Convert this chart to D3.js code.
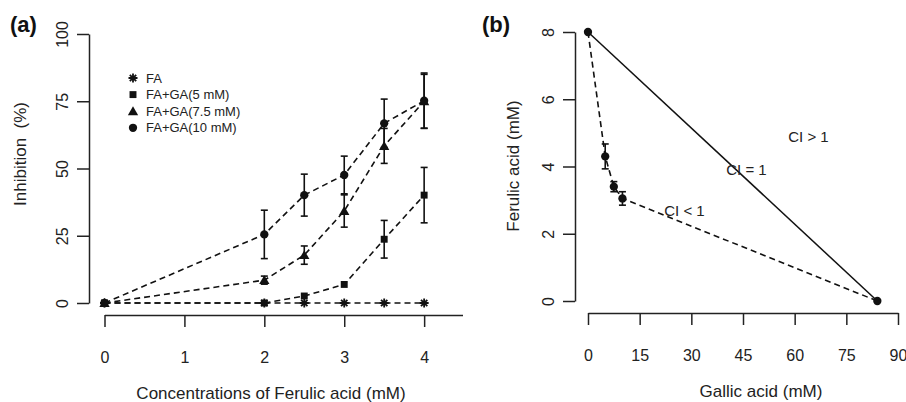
<!DOCTYPE html>
<html>
<head>
<meta charset="utf-8">
<script src="https://cdn.jsdelivr.net/npm/d3@7"></script>
<style>
  body { margin: 0; background: #fff; }
  svg { display: block; font-family: "Liberation Sans", Arial, sans-serif; }
  .dash { fill: none; stroke: #111; stroke-width: 1.6; stroke-dasharray: 6,4; }
  .err { stroke: #111; stroke-width: 1.6; }
</style>
</head>
<body>
<div id="chart"></div>
<script>
// panel (a): inhibition vs ferulic acid concentration
const concFA = [0, 2, 2.5, 3, 3.5, 4];
const seriesNames = ['FA', 'FA+GA(5 mM)', 'FA+GA(7.5 mM)', 'FA+GA(10 mM)'];
const inhFA = [0, 0, 0, 0, 0, 0];
const errFA = [0, 0, 0, 0, 0, 0];
const inhGA5 = [0, 0, 2.6, 6.9, 23.7, 40.1];
const errGA5 = [0, 0, 0, 0, 7, 10.3];
const inhGA75 = [0, 8.5, 17.8, 34.2, 58.4, 75];
const errGA75 = [0, 1.5, 3.4, 6, 6.5, 10];
const inhGA10 = [0, 25.5, 40.1, 47.6, 66.8, 75.2];
const errGA10 = [0, 9, 7.8, 7, 9, 10.3];
const xTicksA = [0, 1, 2, 3, 4];
const yTicksA = [0, 25, 50, 75, 100];

// panel (b): isobologram
const gallic = [0, 5, 7.5, 10, 84];
const ferulic = [8, 4.3, 3.4, 3.05, 0];
const ferulicErr = [0, 0.37, 0.15, 0.2, 0];
const xTicksB = [0, 15, 30, 45, 60, 75, 90];
const yTicksB = [0, 2, 4, 6, 8];
const ciLabels = ['CI > 1', 'CI = 1', 'CI < 1'];
const ciGallic = [64, 46, 28];
const ciFerulic = [4.9, 3.9, 2.7];

const width = 906;
const height = 402;

const svg = d3.select('#chart')
  .append('svg')
  .attr('width', width)
  .attr('height', height);

// draws an R style detached axis with rotated y labels
function leftAxis(g, scale, ticks, x) {
  const ax = g.append('g')
    .attr('transform', `translate(${x},0)`)
    .call(d3.axisLeft(scale).tickValues(ticks).tickSize(12).tickSizeOuter(0).tickFormat(d3.format('d')));
  ax.select('.domain').attr('stroke', '#222').attr('stroke-width', 1.5);
  ax.selectAll('.tick line').attr('stroke', '#222').attr('stroke-width', 1.5);
  ax.selectAll('.tick text')
    .attr('x', 0).attr('y', 0)
    .attr('dy', null)
    .attr('transform', 'translate(-27,0) rotate(-90)')
    .attr('text-anchor', 'middle')
    .attr('dominant-baseline', 'central')
    .style('font-size', '16px')
    .style('font-family', '"Liberation Sans", Arial, sans-serif')
    .style('fill', '#222');
}

function bottomAxis(g, scale, ticks, y) {
  const ax = g.append('g')
    .attr('transform', `translate(0,${y})`)
    .call(d3.axisBottom(scale).tickValues(ticks).tickSize(12).tickSizeOuter(0).tickFormat(d3.format('d')));
  ax.select('.domain').attr('stroke', '#222').attr('stroke-width', 1.5);
  ax.selectAll('.tick line').attr('stroke', '#222').attr('stroke-width', 1.5);
  ax.selectAll('.tick text')
    .attr('y', 42)
    .attr('dy', null)
    .attr('dominant-baseline', 'central')
    .style('font-size', '16px')
    .style('font-family', '"Liberation Sans", Arial, sans-serif')
    .style('fill', '#222');
}

function errorBars(g, xs, ys, es, xScale, yScale) {
  const idx = d3.range(xs.length).filter(i => es[i] > 0);
  idx.forEach(i => {
    const x = xScale(xs[i]);
    const y1 = yScale(ys[i] + es[i]);
    const y2 = yScale(ys[i] - es[i]);
    g.append('line').attr('class', 'err').attr('x1', x).attr('x2', x).attr('y1', y1).attr('y2', y2);
    g.append('line').attr('class', 'err').attr('x1', x - 3.5).attr('x2', x + 3.5).attr('y1', y1).attr('y2', y1);
    g.append('line').attr('class', 'err').attr('x1', x - 3.5).attr('x2', x + 3.5).attr('y1', y2).attr('y2', y2);
  });
}

// marker drawing, R pch 8 / 15 / 17 / 16
function marker(g, kind, x, y) {
  if (kind === 0) {
    const r = 4.5;
    const p = d3.path();
    for (let k = 0; k < 4; k++) {
      const a = k * Math.PI / 4;
      p.moveTo(x - r * Math.cos(a), y - r * Math.sin(a));
      p.lineTo(x + r * Math.cos(a), y + r * Math.sin(a));
    }
    g.append('path').attr('d', p.toString()).attr('stroke', '#111').attr('stroke-width', 1.8);
  } else {
    const type = [null, d3.symbolSquare, d3.symbolTriangle, d3.symbolCircle][kind];
    const size = [0, 48, 46, 54][kind];
    g.append('path')
      .attr('d', d3.symbol().type(type).size(size)())
      .attr('transform', `translate(${x},${y + (kind === 2 ? 1 : 0)})`)
      .attr('fill', '#111');
  }
}

// ---------- panel (a) ----------
const xA = d3.scaleLinear().domain([0, 4.48]).range([104.5, 462.5]);
const yA = d3.scaleLinear().domain([0, 100]).range([303, 34]);
const gA = svg.append('g');

leftAxis(gA, yA, yTicksA, 89);
bottomAxis(gA, xA, xTicksA, 315);

const seriesA = [
  { y: inhFA, e: errFA },
  { y: inhGA5, e: errGA5 },
  { y: inhGA75, e: errGA75 },
  { y: inhGA10, e: errGA10 }
];

const lineA = d3.line().x(d => xA(d[0])).y(d => yA(d[1]));
seriesA.forEach(s => {
  gA.append('path').attr('class', 'dash').attr('d', lineA(concFA.map((c, i) => [c, s.y[i]])));
});
seriesA.forEach(s => errorBars(gA, concFA, s.y, s.e, xA, yA));
seriesA.forEach((s, k) => {
  concFA.forEach((c, i) => marker(gA, k, xA(c), yA(s.y[i])));
});

// legend
seriesNames.forEach((name, k) => {
  const ly = 78 + k * 16.6;
  marker(gA, k, 133, ly);
  gA.append('text')
    .attr('x', 146).attr('y', ly)
    .attr('dominant-baseline', 'central')
    .style('font-size', '13px')
    .style('fill', '#222')
    .text(name);
});

gA.append('text')
  .attr('x', 271).attr('y', 393)
  .attr('text-anchor', 'middle').attr('dominant-baseline', 'central')
  .style('font-size', '17px').style('fill', '#222')
  .text('Concentrations of Ferulic acid (mM)');

gA.append('text')
  .attr('transform', 'translate(20,154) rotate(-90)')
  .attr('text-anchor', 'middle').attr('dominant-baseline', 'central')
  .style('font-size', '17px').style('fill', '#222')
  .attr('xml:space', 'preserve')
  .text('Inhibition  (%)');

gA.append('text')
  .attr('x', 10).attr('y', 24)
  .attr('dominant-baseline', 'central')
  .style('font-size', '22px').style('font-weight', 'bold').style('fill', '#111')
  .text('(a)');

// ---------- panel (b) ----------
const xB = d3.scaleLinear().domain([0, 90]).range([588, 898]);
const yB = d3.scaleLinear().domain([0, 8]).range([301, 32]);
const gB = svg.append('g');

leftAxis(gB, yB, yTicksB, 575);
bottomAxis(gB, xB, xTicksB, 313);

const last = gallic.length - 1;
gB.append('line')
  .attr('x1', xB(gallic[0])).attr('y1', yB(ferulic[0]))
  .attr('x2', xB(gallic[last])).attr('y2', yB(ferulic[last]))
  .attr('stroke', '#111').attr('stroke-width', 1.5);

const lineB = d3.line().x(d => xB(d[0])).y(d => yB(d[1]));
gB.append('path').attr('class', 'dash').attr('d', lineB(gallic.map((g, i) => [g, ferulic[i]])));
errorBars(gB, gallic, ferulic, ferulicErr, xB, yB);
gallic.forEach((g, i) => marker(gB, 3, xB(g), yB(ferulic[i])));

ciLabels.forEach((t, i) => {
  gB.append('text')
    .attr('x', xB(ciGallic[i])).attr('y', yB(ciFerulic[i]))
    .attr('text-anchor', 'middle').attr('dominant-baseline', 'central')
    .style('font-size', '15px').style('fill', '#222')
    .text(t);
});

gB.append('text')
  .attr('x', 761).attr('y', 391)
  .attr('text-anchor', 'middle').attr('dominant-baseline', 'central')
  .style('font-size', '17px').style('fill', '#222')
  .text('Gallic acid (mM)');

gB.append('text')
  .attr('transform', 'translate(513,166) rotate(-90)')
  .attr('text-anchor', 'middle').attr('dominant-baseline', 'central')
  .style('font-size', '17px').style('fill', '#222')
  .text('Ferulic acid (mM)');

gB.append('text')
  .attr('x', 482).attr('y', 24)
  .attr('dominant-baseline', 'central')
  .style('font-size', '22px').style('font-weight', 'bold').style('fill', '#111')
  .text('(b)');
</script>
</body>
</html>
